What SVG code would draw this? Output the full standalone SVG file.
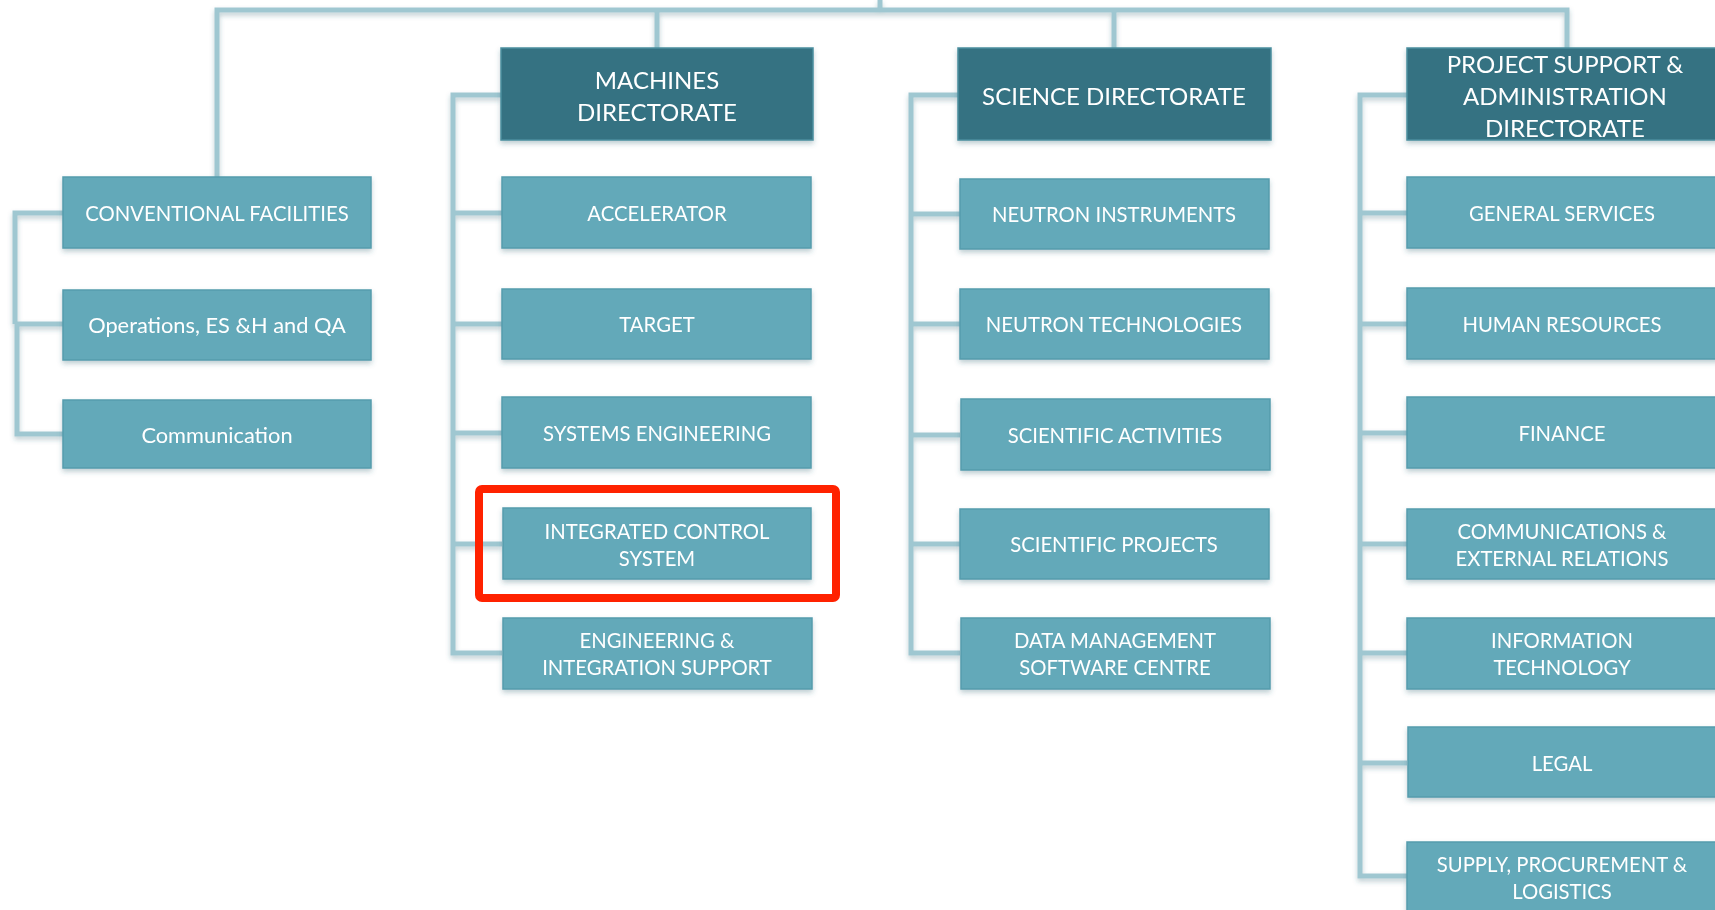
<svg xmlns="http://www.w3.org/2000/svg" width="1715" height="910" viewBox="0 0 1715 910">
<defs>
<style>
.dark{fill:#347282;stroke:#4a8e9e;stroke-width:1.5}
.light{fill:#64a9b9;stroke:#559cad;stroke-width:1.5}
.t{font-family:Lato,"Open Sans","Liberation Sans",sans-serif;fill:#ffffff;text-anchor:middle}
.tl{font-size:20.3px}
.tm{font-size:21.8px}
.td{font-size:24px}
.con{fill:none;stroke:#9fc7d1;stroke-width:5;stroke-linejoin:miter}
.hl{fill:none;stroke:#ff2200;stroke-width:8}
</style>
<filter id="sh" x="-10%" y="-20%" width="120%" height="150%">
<feDropShadow dx="0" dy="3" stdDeviation="2.5" flood-color="#2a6070" flood-opacity="0.3"/>
</filter>
</defs>
<rect width="1715" height="910" fill="#ffffff"/>
<g id="connectors" filter="url(#sh)">
<path class="con" d="M880,0 V10 M217,177 V10 H1567 V48 M657,10 V48 M1114,10 V48"/>
<path class="con" d="M63,213 H15 V324 M15,324 H63 M17,324 V434 H63"/>
<path class="con" d="M501,95 H453 V653 H502 M453,213 H502 M453,324 H502 M453,433 H502 M453,544 H502"/>
<path class="con" d="M958,95 H911 V653 H960 M911,214 H960 M911,324 H960 M911,435 H960 M911,544 H960"/>
<path class="con" d="M1407,95 H1360 V876 H1407 M1360,213 H1407 M1360,324 H1407 M1360,433 H1407 M1360,544 H1407 M1360,653 H1407 M1360,763 H1407"/>
</g>
<g id="machines-directorate" filter="url(#sh)"><rect class="dark" x="501" y="48" width="312" height="92"/><text class="t td" x="657" y="89">MACHINES</text><text class="t td" x="657" y="121">DIRECTORATE</text></g>
<g id="science-directorate" filter="url(#sh)"><rect class="dark" x="958" y="48" width="313" height="92"/><text class="t td" x="1114" y="105">SCIENCE DIRECTORATE</text></g>
<g id="psa-directorate" filter="url(#sh)"><rect class="dark" x="1407" y="48" width="316" height="92"/><text class="t td" x="1565" y="73">PROJECT SUPPORT &amp;</text><text class="t td" x="1565" y="105">ADMINISTRATION</text><text class="t td" x="1565" y="137">DIRECTORATE</text></g>

<g id="conventional-facilities" filter="url(#sh)"><rect class="light" x="63" y="177" width="308" height="71"/><text class="t tl" x="217" y="221">CONVENTIONAL FACILITIES</text></g>
<g id="operations" filter="url(#sh)"><rect class="light" x="63" y="290" width="308" height="70"/><text class="t tm" x="217" y="333">Operations, ES &amp;H and QA</text></g>
<g id="communication" filter="url(#sh)"><rect class="light" x="63" y="400" width="308" height="68"/><text class="t tm" x="217" y="443">Communication</text></g>

<g id="accelerator" filter="url(#sh)"><rect class="light" x="502" y="177" width="309" height="71"/><text class="t tl" x="657" y="221">ACCELERATOR</text></g>
<g id="target" filter="url(#sh)"><rect class="light" x="502" y="289" width="309" height="70"/><text class="t tl" x="657" y="332">TARGET</text></g>
<g id="systems-engineering" filter="url(#sh)"><rect class="light" x="502" y="397" width="309" height="71"/><text class="t tl" x="657" y="441">SYSTEMS ENGINEERING</text></g>
<g id="integrated-control-system" filter="url(#sh)"><rect class="light" x="503" y="508" width="308" height="71"/><text class="t tl" x="657" y="539">INTEGRATED CONTROL</text><text class="t tl" x="657" y="566">SYSTEM</text></g>
<g id="engineering-integration" filter="url(#sh)"><rect class="light" x="503" y="618" width="309" height="71"/><text class="t tl" x="657" y="648">ENGINEERING &amp;</text><text class="t tl" x="657" y="675">INTEGRATION SUPPORT</text></g>

<g id="neutron-instruments" filter="url(#sh)"><rect class="light" x="960" y="179" width="309" height="70"/><text class="t tl" x="1114" y="222">NEUTRON INSTRUMENTS</text></g>
<g id="neutron-technologies" filter="url(#sh)"><rect class="light" x="960" y="289" width="309" height="70"/><text class="t tl" x="1114" y="332">NEUTRON TECHNOLOGIES</text></g>
<g id="scientific-activities" filter="url(#sh)"><rect class="light" x="961" y="399" width="309" height="71"/><text class="t tl" x="1115" y="443">SCIENTIFIC ACTIVITIES</text></g>
<g id="scientific-projects" filter="url(#sh)"><rect class="light" x="960" y="509" width="309" height="70"/><text class="t tl" x="1114" y="552">SCIENTIFIC PROJECTS</text></g>
<g id="dmsc" filter="url(#sh)"><rect class="light" x="961" y="618" width="309" height="71"/><text class="t tl" x="1115" y="648">DATA MANAGEMENT</text><text class="t tl" x="1115" y="675">SOFTWARE CENTRE</text></g>

<g id="general-services" filter="url(#sh)"><rect class="light" x="1407" y="177" width="316" height="71"/><text class="t tl" x="1562" y="221">GENERAL SERVICES</text></g>
<g id="human-resources" filter="url(#sh)"><rect class="light" x="1407" y="288" width="316" height="71"/><text class="t tl" x="1562" y="332">HUMAN RESOURCES</text></g>
<g id="finance" filter="url(#sh)"><rect class="light" x="1407" y="397" width="316" height="71"/><text class="t tl" x="1562" y="441">FINANCE</text></g>
<g id="communications-external" filter="url(#sh)"><rect class="light" x="1407" y="509" width="316" height="70"/><text class="t tl" x="1562" y="539">COMMUNICATIONS &amp;</text><text class="t tl" x="1562" y="566">EXTERNAL RELATIONS</text></g>
<g id="information-technology" filter="url(#sh)"><rect class="light" x="1407" y="618" width="316" height="71"/><text class="t tl" x="1562" y="648">INFORMATION</text><text class="t tl" x="1562" y="675">TECHNOLOGY</text></g>
<g id="legal" filter="url(#sh)"><rect class="light" x="1408" y="727" width="315" height="70"/><text class="t tl" x="1562" y="771">LEGAL</text></g>
<g id="supply-procurement" filter="url(#sh)"><rect class="light" x="1407" y="842" width="316" height="75"/><text class="t tl" x="1562" y="872">SUPPLY, PROCUREMENT &amp;</text><text class="t tl" x="1562" y="899">LOGISTICS</text></g>

<rect id="highlight" class="hl" x="479" y="489" width="357" height="109" rx="3"/>
</svg>
